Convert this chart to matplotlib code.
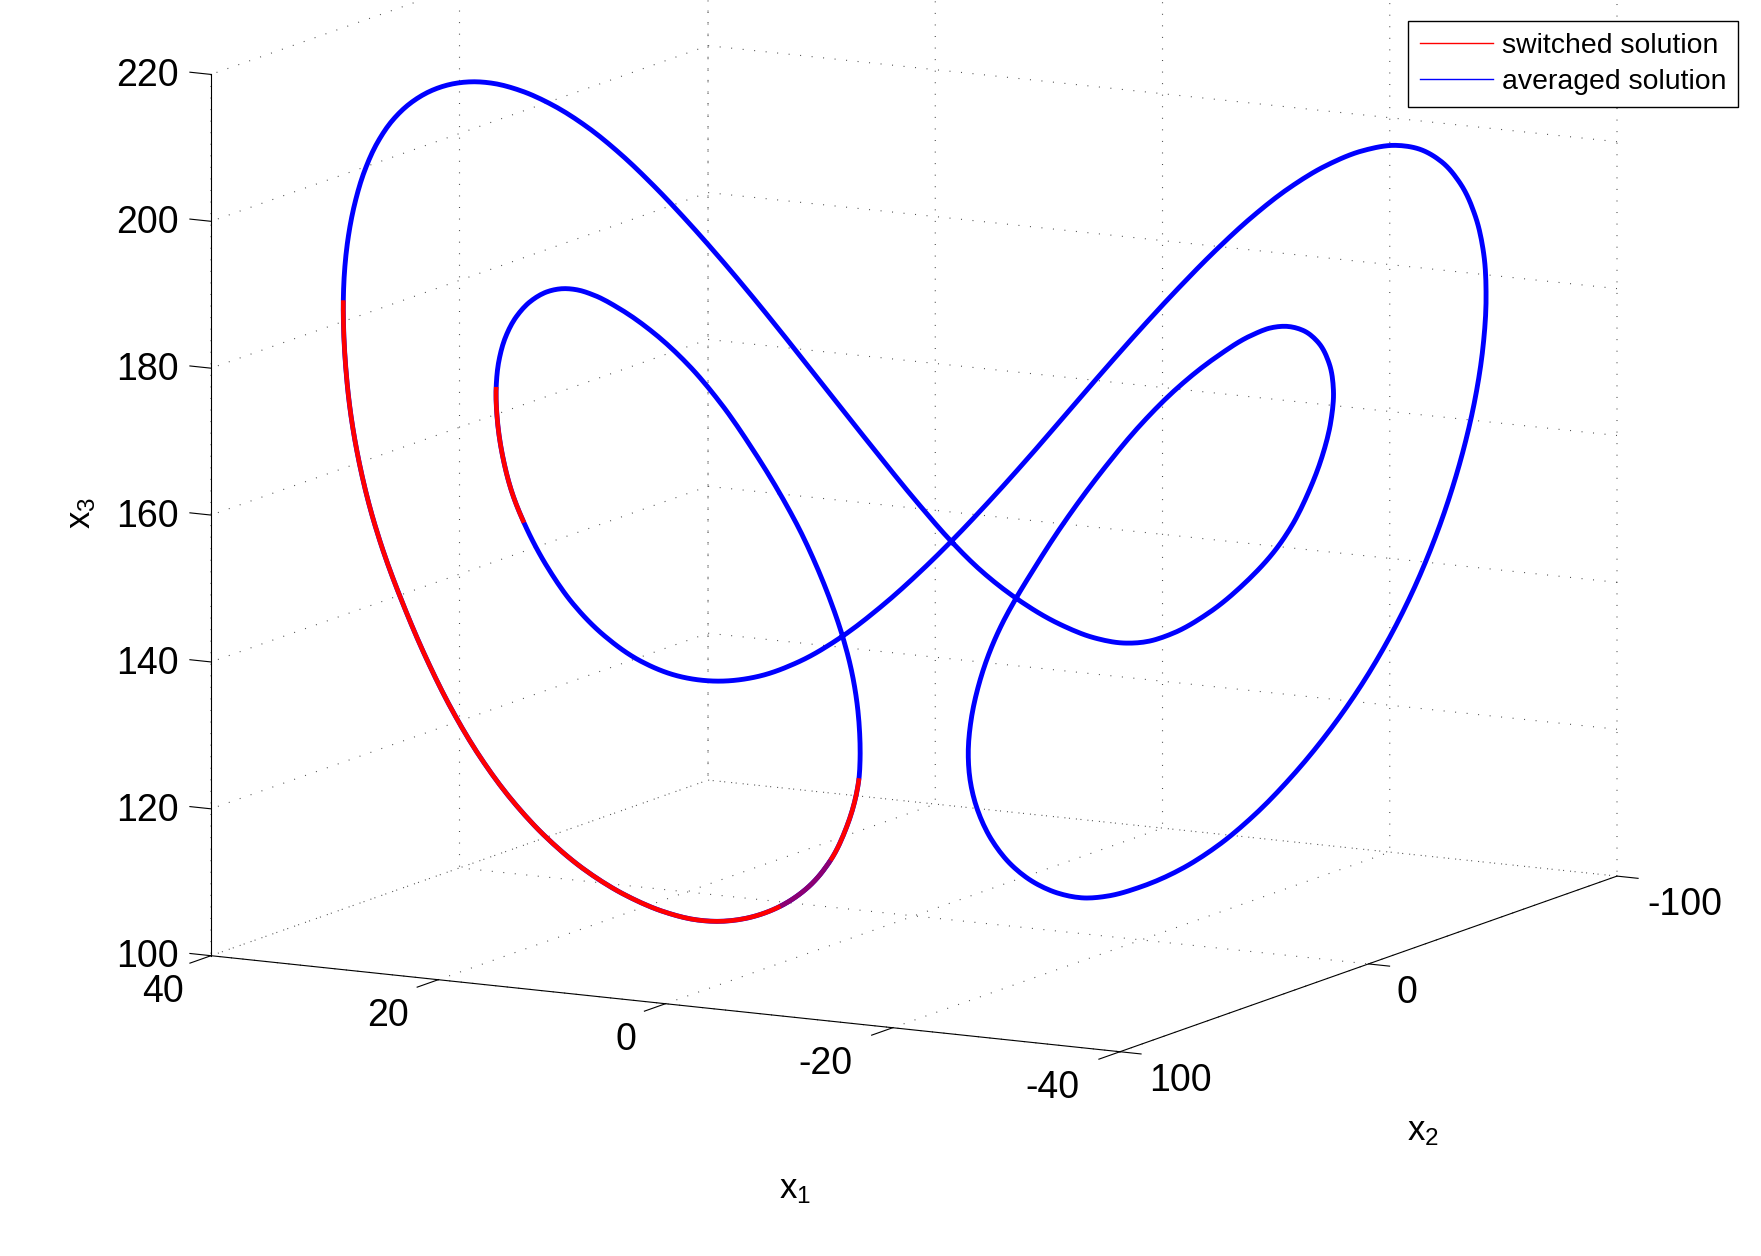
#!/usr/bin/env python3
"""Closed orbit in (x1, x2, x3), switched vs averaged solution."""

import matplotlib

matplotlib.use("Agg")
import matplotlib.pyplot as plt  # noqa: E402
import numpy as np  # noqa: E402
from matplotlib.lines import Line2D  # noqa: E402
from matplotlib.transforms import Affine2D  # noqa: E402
from mpl_toolkits.mplot3d import proj3d  # noqa: E402

W, H = 1761, 1256
DPI = 100

X1_TICKS = [40, 20, 0, -20, -40]
X2_TICKS = [100, 0, -100]
X3_TICKS = [100, 120, 140, 160, 180, 200, 220]

# values, one closed loop
ORBIT_X1 = [
    -2.36, -0.37, 2.69, 5.76, 7.79, 9.84, 11.88, 13.92, 15.96, 18.00,
    20.04, 22.09, 24.12, 25.76, 27.08, 28.41, 29.64, 30.86, 31.88, 32.80,
    33.62, 34.23, 34.64, 34.84, 34.90, 34.90, 34.78, 34.49, 34.06, 33.31,
    32.43, 31.23, 29.81, 28.28, 26.53, 24.56, 22.37, 19.97, 17.57, 15.16,
    13.41, 11.88, 10.13, 8.16, 6.41, 5.10, 4.12, 3.57, 3.44, 3.33,
    3.33, 3.50, 3.83, 4.38, 5.21, 6.09, 7.07, 7.79, 9.84, 11.88,
    13.92, 15.96, 18.00, 19.64, 20.65, 21.57, 22.49, 23.51, 24.33, 24.94,
    25.35, 25.55, 25.49, 25.15, 24.53, 23.76, 22.37, 20.84, 18.88, 16.69,
    14.51, 11.99, 9.47, 7.07, 4.38, 2.08, -0.37, -2.36, -4.90, -7.16,
    -9.43, -11.70, -13.96, -16.23, -18.49, -20.76, -23.02, -25.28, -27.55, -29.48,
    -30.95, -32.30, -33.43, -34.35, -34.80, -34.98, -34.80, -34.35, -33.66, -32.76,
    -31.74, -30.49, -28.91, -27.10, -25.29, -23.02, -20.76, -18.49, -16.23, -13.96,
    -11.70, -10.45, -8.98, -7.39, -6.03, -4.90, -3.99, -3.50, -3.36, -3.54,
    -3.99, -4.67, -5.46, -6.21, -7.39, -8.75, -9.43, -11.70, -13.96, -16.23,
    -18.49, -20.76, -21.89, -22.91, -23.93, -24.83, -25.40, -25.62, -25.47, -24.95,
    -24.16, -23.02, -22.12, -20.30, -18.04, -15.77, -14.19, -12.83, -11.02, -8.98,
    -6.21, -4.22, -2.36,
]
ORBIT_X2 = [
    -4.73, -0.73, 5.39, 11.51, 15.59, 19.68, 23.76, 27.83, 31.92, 36.00,
    40.08, 44.17, 48.25, 51.52, 54.16, 56.82, 59.27, 61.72, 63.76, 65.60,
    67.23, 68.45, 69.27, 69.68, 69.80, 69.80, 69.56, 68.98, 68.12, 66.62,
    64.87, 62.47, 59.62, 56.56, 53.06, 49.12, 44.75, 39.93, 35.13, 30.32,
    26.82, 23.76, 20.25, 16.32, 12.82, 10.20, 8.23, 7.14, 6.88, 6.66,
    6.66, 7.00, 7.67, 8.76, 10.42, 12.17, 14.13, 15.59, 19.68, 23.76,
    27.83, 31.92, 36.00, 39.27, 41.30, 43.14, 44.98, 47.02, 48.65, 49.88,
    50.70, 51.10, 50.98, 50.29, 49.07, 47.51, 44.75, 41.68, 37.75, 33.38,
    29.01, 23.98, 18.94, 14.13, 8.76, 4.16, -0.73, -4.73, -9.80, -14.33,
    -18.86, -23.39, -27.92, -32.45, -36.98, -41.51, -46.04, -50.56, -55.11, -58.95,
    -61.89, -64.61, -66.86, -68.70, -69.61, -69.96, -69.61, -68.70, -67.33, -65.52,
    -63.48, -60.98, -57.81, -54.20, -50.58, -46.04, -41.51, -36.98, -32.45, -27.92,
    -23.39, -20.89, -17.95, -14.78, -12.06, -9.80, -7.98, -6.99, -6.71, -7.08,
    -7.98, -9.34, -10.92, -12.42, -14.78, -17.50, -18.86, -23.39, -27.92, -32.45,
    -36.98, -41.51, -43.78, -45.81, -47.86, -49.67, -50.80, -51.25, -50.93, -49.89,
    -48.31, -46.04, -44.23, -40.61, -36.08, -31.55, -28.37, -25.65, -22.03, -17.95,
    -12.42, -8.44, -4.73,
]
ORBIT_X3 = [
    150.75, 155.90, 164.57, 173.14, 179.20, 184.94, 190.40, 195.64, 200.55, 205.02,
    208.93, 212.14, 214.24, 215.18, 215.51, 215.34, 214.52, 212.94, 210.75, 207.86,
    204.07, 199.58, 194.62, 190.55, 186.47, 182.84, 177.38, 171.47, 165.08, 157.77,
    152.26, 144.91, 137.32, 130.16, 123.67, 117.63, 112.25, 107.52, 103.94, 101.63,
    100.76, 100.38, 100.52, 101.78, 104.45, 107.99, 112.45, 116.95, 119.02, 121.47,
    125.10, 129.20, 133.75, 138.33, 143.84, 148.67, 153.06, 156.28, 164.16, 170.89,
    176.27, 180.50, 184.06, 186.00, 186.66, 186.92, 186.76, 185.61, 183.40, 180.72,
    177.58, 173.96, 169.43, 163.96, 159.38, 155.45, 148.77, 144.12, 139.66, 136.09,
    133.75, 132.78, 133.37, 135.36, 138.33, 142.24, 147.50, 150.75, 156.68, 162.19,
    168.14, 173.64, 178.92, 184.19, 189.23, 193.59, 197.29, 200.29, 202.06, 202.73,
    202.13, 200.20, 197.18, 192.56, 187.54, 181.62, 174.83, 168.06, 161.31, 155.03,
    148.30, 141.59, 134.91, 128.69, 122.93, 117.20, 112.15, 108.01, 105.01, 102.91,
    101.95, 101.81, 102.25, 103.87, 106.46, 109.72, 113.66, 117.78, 121.87, 126.39,
    131.35, 135.83, 139.41, 142.62, 146.75, 151.18, 153.62, 160.25, 165.99, 170.79,
    174.71, 177.49, 178.32, 178.46, 177.93, 176.27, 173.28, 169.63, 165.56, 160.61,
    156.13, 151.22, 148.57, 143.73, 139.58, 137.26, 136.47, 136.30, 136.94, 139.14,
    142.62, 146.76, 150.75,
]
# stretches of the loop where the switched solution shows on top
RED_SPANS = [(24, 48), (71, 75)]
MIXED_SPAN = (43, 45)

STEPS = 8

plt.rcParams.update(
    {
        "font.family": ["Liberation Sans", "DejaVu Sans"],
        "font.size": 27,
        "mathtext.default": "regular",
        "axes.unicode_minus": False,
    }
)


def calm_reading_noise(pts, rounds=12):
    """Taubin passes over the closed loop: takes out reading jitter, keeps the size."""
    for factor in (0.5, -0.52) * rounds:
        prev_d = np.roll(pts, 1, axis=0) - pts
        next_d = np.roll(pts, -1, axis=0) - pts
        w0 = 1 / np.linalg.norm(prev_d, axis=1)[:, None]
        w1 = 1 / np.linalg.norm(next_d, axis=1)[:, None]
        pts = pts + factor * (prev_d * w0 + next_d * w1) / (w0 + w1)
    return pts


def smooth_loop(x1, x2, x3):
    """Hermite curve through the closed loop, so the line has no corners."""
    pts = np.column_stack([np.array(x1) / 80, np.array(x2) / 200, np.array(x3) / 120])[:-1]
    pts = calm_reading_noise(pts)
    prev_d = pts - np.roll(pts, 1, axis=0)
    next_d = np.roll(pts, -1, axis=0) - pts
    h0 = np.linalg.norm(prev_d, axis=1)[:, None]
    h1 = np.linalg.norm(next_d, axis=1)[:, None]
    slope = (prev_d / h0 * h1 + next_d / h1 * h0) / (h0 + h1)
    s = np.linspace(0, 1, STEPS, endpoint=False)[:, None, None]
    p0, p1 = pts[None], np.roll(pts, -1, axis=0)[None]
    m0, m1 = slope[None] * h1[None], np.roll(slope, -1, axis=0)[None] * h1[None]
    curve = ((2 * s**3 - 3 * s**2 + 1) * p0 + (s**3 - 2 * s**2 + s) * m0
             + (-2 * s**3 + 3 * s**2) * p1 + (s**3 - s**2) * m1)
    curve = curve.transpose(1, 0, 2).reshape(-1, 3)
    curve = np.vstack([curve, curve[:1]])
    return curve[:, 0] * 80, curve[:, 1] * 200, curve[:, 2] * 120


def to_pixels(ax, x, y, z):
    px, py, _ = proj3d.proj_transform(x, y, z, ax.get_proj())
    return ax.transData.transform((px, py))


def fit_box(fig, ax):
    """Put the box corners where they sit in the picture."""
    ax.set_position([0.1, 0.1, 0.5, 0.5 * W / H])
    ax.apply_aspect()
    a = to_pixels(ax, 40, 100, 100)
    c = to_pixels(ax, -40, -100, 100)
    box = ax.get_position()
    size = box.width * W
    scale = (1617 - 211) / (c[0] - a[0])
    frac = ax.transAxes.inverted().transform(a)
    new = size * scale
    left = 211 - frac[0] * new
    bottom = (H - 955.7) - frac[1] * new
    ax.set_position([left / W, bottom / H, new / W, new / H])
    ax.apply_aspect()


def shift_tick_labels(axis, offsets):
    """Nudge tick labels by pixels; mplot3d resets their transform on every draw."""
    get_ticks = axis.get_major_ticks

    def shifted(numticks=None):
        ticks = get_ticks(numticks)
        for tick, (dx, dy) in zip(ticks, offsets):
            tick.label1.set_transform(axis.axes.transData + Affine2D().translate(dx, dy))
        return ticks

    axis.get_major_ticks = shifted


fig = plt.figure(figsize=(W / DPI, H / DPI), dpi=DPI)
ax = fig.add_axes([0, 0, 1, 1], projection="3d")
ax.computed_zorder = False
ax.set_proj_type("ortho")
ax.view_init(elev=11.14, azim=118.67)
ax.set_box_aspect((1, 1, 0.867))
ax.set_xlim(-40, 40)
ax.set_ylim(-100, 100)
ax.set_zlim(100, 220)
ax.patch.set_alpha(0)

cx1, cx2, cx3 = smooth_loop(ORBIT_X1, ORBIT_X2, ORBIT_X3)
ax.plot(cx1, cx2, cx3, color="#0000ff", lw=3.5, zorder=3, solid_joinstyle="round")
for start, stop in RED_SPANS:
    a, b = start * STEPS, stop * STEPS + 1
    ax.plot(cx1[a:b], cx2[a:b], cx3[a:b], color="#ff0000", lw=3.3, zorder=4,
            solid_capstyle="butt", solid_joinstyle="round")
a, b = MIXED_SPAN[0] * STEPS, MIXED_SPAN[1] * STEPS + 1
ax.plot(cx1[a:b], cx2[a:b], cx3[a:b], color="#0000ff", lw=3.3, zorder=5, alpha=0.45,
        solid_capstyle="butt")

ax.set_xticks(X1_TICKS, [str(t) for t in X1_TICKS])
ax.set_yticks(X2_TICKS, [str(t) for t in X2_TICKS])
ax.set_zticks(X3_TICKS, [str(t) for t in X3_TICKS])
ax.tick_params(axis="x", pad=6)
ax.tick_params(axis="y", pad=6)
ax.tick_params(axis="z", pad=14)
ax.zaxis._axinfo["juggled"] = (1, 2, 0)

for axis, outward in ((ax.xaxis, -0.53), (ax.yaxis, -0.29), (ax.zaxis, 0.29)):
    axis.set_pane_color((1, 1, 1, 0))
    axis.pane.set_edgecolor("none")
    axis.line.set_color("black")
    axis.line.set_linewidth(0.8)
    axis._axinfo["grid"].update(color="0.3", linewidth=0.8, linestyle=(0, (0.9, 9.5)))
    axis._axinfo["tick"].update(inward_factor=0.0, outward_factor=outward,
                                linewidth={True: 0.8, False: 0.5})
    for label in axis.get_majorticklabels():
        label.set_va("center")

shift_tick_labels(ax.xaxis, [(-37, -13), (-39, -13), (-28, -13), (-56, -13), (-56, -13)])
shift_tick_labels(ax.yaxis, [(40, -7), (18, -7), (48, -7)])
shift_tick_labels(ax.zaxis, [(-14, 1)] * len(X3_TICKS))

fit_box(fig, ax)

fig.text(795 / W, 1 - 1190 / H, "x$_1$", ha="center", va="center", fontsize=25)
fig.text(1423 / W, 1 - 1131 / H, "x$_2$", ha="center", va="center", fontsize=25)
fig.text(81 / W, 1 - 513 / H, "x$_3$", ha="center", va="center", fontsize=25,
         rotation=90)

handles = [
    Line2D([], [], color="#ff0000", lw=1.0),
    Line2D([], [], color="#0000ff", lw=1.0),
]
fig.legend(
    handles,
    ["switched solution", "averaged solution"],
    loc="upper right",
    bbox_to_anchor=(1738 / W, 1 - 21 / H),
    borderaxespad=0,
    fontsize=20.4,
    fancybox=False,
    framealpha=1,
    edgecolor="black",
    borderpad=0.42,
    labelspacing=0.36,
    handlelength=2.57,
    handletextpad=0.31,
).get_frame().set_linewidth(1.0)

fig.savefig("out.png", dpi=DPI)
